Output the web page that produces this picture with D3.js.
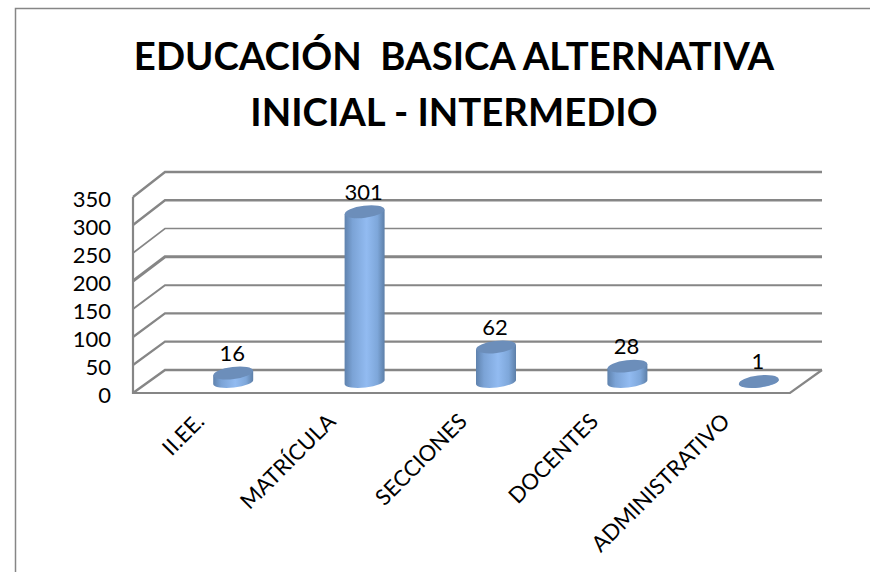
<!DOCTYPE html>
<html><head><meta charset="utf-8">
<script src="https://cdn.jsdelivr.net/npm/d3@7"></script>
<style>html,body{margin:0;padding:0;background:#fff}svg{display:block}text{font-family:Lato,"Open Sans",sans-serif;fill:#000}</style>
</head><body><svg id="c" width="870" height="572"></svg>
<script>
const categories=["II.EE.","MATRÍCULA","SECCIONES","DOCENTES","ADMINISTRATIVO"];
const values=[16,301,62,28,1];
const tickValues=[0,50,100,150,200,250,300,350];
const gridWidths=[2.5,2.2,2.2,2,3,1.6,2.4,2.4];
const titleLines=["EDUCACIÓN  BASICA ALTERNATIVA","INICIAL - INTERMEDIO"];

const svg=d3.select("#c");
const frontY=d3.scaleLinear().domain([0,350]).range([393,197]);
const backY=d3.scaleLinear().domain([0,350]).range([370,172]);
const barY=d3.scaleLinear().domain([0,350]).range([382,184]);
const x=d3.scaleBand().domain(categories).range([168,825]);
const grey="#868686";

svg.append("path").attr("d","M15.5,572V8.5H870").attr("fill","none").attr("stroke",grey).attr("stroke-width",1.5);

svg.selectAll("text.t").data(titleLines).join("text").attr("class","t")
  .attr("x",454).attr("y",(d,i)=>[70,126][i]).attr("text-anchor","middle")
  .attr("font-size",38.3).attr("font-weight",700).style("white-space","pre").text(d=>d);

const g=svg.append("g").attr("fill","none").attr("stroke",grey);
tickValues.forEach((v,i)=>{
  g.append("path").attr("stroke-width",gridWidths[i])
   .attr("d",`M133,${frontY(v)}L165,${backY(v)}H822`);
});
g.append("path").attr("stroke-width",2.2).attr("d",`M133,${frontY(350)}V${frontY(0)}H790L822,${backY(0)}`);

const axis=d3.axisLeft(frontY).tickValues(tickValues).tickSize(0).tickPadding(0);
const ag=svg.append("g").attr("transform","translate(111,2.5)").call(axis);
ag.select(".domain").remove();
ag.selectAll("text").attr("font-size",22).style("font-family","Lato,sans-serif").attr("fill","#000");

const defs=svg.append("defs");
const grad=defs.append("linearGradient").attr("id","cyl");
[[0,"#5f82ad"],[.2,"#7ba3d6"],[.55,"#92bbf1"],[.82,"#7ea7da"],[1,"#5d7fa8"]].forEach(s=>grad.append("stop").attr("offset",s[0]).attr("stop-color",s[1]));

const rx=20,ry=5.5,dy=2.2;
const bars=svg.selectAll("g.b").data(categories.map((c,i)=>({c,v:values[i]}))).join("g").attr("class","b");
bars.each(function(d){
  const s=d3.select(this),cx=x(d.c)+x.bandwidth()/2-0.5,y0=barY(0),y1=barY(d.v);
  s.append("path").attr("fill","url(#cyl)")
   .attr("d",`M${cx-rx},${y1+dy}V${y0+dy}A${rx},${ry} -6 0 0 ${cx+rx},${y0-dy}V${y1-dy}Z`);
  s.append("ellipse").attr("cx",cx).attr("cy",y1).attr("rx",rx).attr("ry",ry+.5)
   .attr("transform",`rotate(-7 ${cx} ${y1})`).attr("fill","#6c8eba");
  s.append("text").attr("x",cx-1).attr("y",y1-12).attr("text-anchor","middle").attr("font-size",22).text(d.v);
});

svg.selectAll("text.c").data(categories).join("text").attr("class","c")
  .attr("text-anchor","end").attr("font-size",22)
  .attr("transform",d=>`translate(${x(d)+x.bandwidth()/2-39},${412}) rotate(-45)`)
  .attr("dy","0.7em").text(d=>d);
</script></body></html>
